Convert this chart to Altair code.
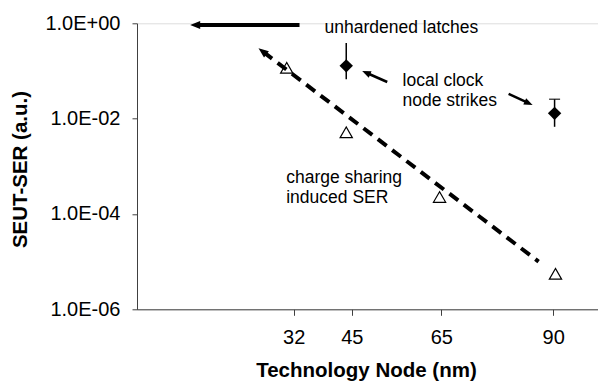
import altair as alt
import pandas as pd

# ---- data ----
tri_x = [30.45, 43.75, 64.6, 90.5]
tri_y = [0.1165, 5.17e-3, 2.27e-4, 5.56e-6]

dia_x = [43.75, 90.3]
dia_y = [0.128, 0.0129]
err_hi = [0.386, 0.0255]
err_lo = [0.0669, 0.00674]
cap_x = [90.3]
cap_y = [0.0255]

dash_x = [25.22, 86.73]
dash_y = [0.251, 1.0e-5]

arrow_tail_x = [33.31, 52.91, 80.03]
arrow_tail_y = [0.921, 0.0587, 0.0329]
arrow_neck_x = [10.25, 48.35, 84.38]
arrow_neck_y = [0.921, 0.0907, 0.0214]
arrow_width = [4, 2.5, 2.5]

head_x = [8.88, 47.32, 85.39, 24.15]
head_y = [0.921, 0.0999, 0.0193, 0.299]
head_angle = [270, 293.7, 114.6, 307.4]
head_size = [400, 300, 300, 400]

texts = ["unhardened latches", "local clock\nnode strikes", "charge sharing\ninduced SER"]
text_x = [38.9, 56.33, 30.34]
text_y = [0.635, 0.0484, 4.53e-4]

x_ticks = [32, 45, 65, 90]
y_ticks = [1e-6, 1e-4, 1e-2, 1]
y_labels = ["1.0E-06", "1.0E-04", "1.0E-02", "1.0E+00"]

FONT = "Liberation Sans"

label_expr = " : ".join(
    f"datum.value === {repr(v)} ? '{l}'" for v, l in zip(y_ticks, y_labels)
) + " : ''"

x_scale = alt.Scale(domain=[-3, 100], nice=False, zero=False)
y_scale = alt.Scale(type="log", domain=[1e-6, 1], nice=False)

x_axis = alt.Axis(
    values=x_ticks, title="Technology Node (nm)", grid=False,
    labelFontSize=20, labelFont=FONT, labelColor="black", labelPadding=12,
    tickSize=6, tickColor="#404040", domainColor="#404040",
    titleFontSize=20.5, titleFont=FONT, titleFontWeight="bold", titleColor="black",
    titleBaseline="alphabetic", titleY=67.2, titleX=229,
)
y_axis = alt.Axis(
    values=y_ticks, labelExpr=label_expr, title="SEUT-SER (a.u.)", grid=False,
    labelFontSize=20, labelFont=FONT, labelColor="black", labelPadding=12,
    tickSize=5, tickColor="#404040", domainColor="#404040",
    titleFontSize=20.5, titleFont=FONT, titleFontWeight="bold", titleColor="black",
    titleBaseline="alphabetic", titleX=-110.3, titleY=145.7, titleAngle=270,
)


def X(field):
    return alt.X(field, type="quantitative", scale=x_scale, axis=x_axis)


def Y(field):
    return alt.Y(field, type="quantitative", scale=y_scale, axis=y_axis)


tri_df = pd.DataFrame({"x": tri_x, "y": tri_y})
dia_df = pd.DataFrame({"x": dia_x, "y": dia_y, "lo": err_lo, "hi": err_hi})
cap_df = pd.DataFrame({"x": cap_x, "y": cap_y})
dash_df = pd.DataFrame({"x": dash_x, "y": dash_y, "i": [0, 1]})
arrow_df = pd.DataFrame({"x": arrow_tail_x, "y": arrow_tail_y,
                         "x2": arrow_neck_x, "y2": arrow_neck_y, "w": arrow_width})
head_df = pd.DataFrame({"x": head_x, "y": head_y, "a": head_angle, "s": head_size})
text_df = pd.DataFrame({"x": text_x, "y": text_y, "t": texts})

triangles = alt.Chart(tri_df).mark_point(
    shape="triangle-up", filled=True, fill="white", stroke="black",
    strokeWidth=1.2, size=150, opacity=1
).encode(x=X("x"), y=Y("y"))

dashed = alt.Chart(dash_df).mark_line(
    color="black", strokeWidth=4, strokeDash=[11, 7]
).encode(x=X("x"), y=Y("y"), order="i:Q")

errbars = alt.Chart(dia_df).mark_rule(color="black", strokeWidth=1.5).encode(
    x=X("x"), y=Y("lo"), y2="hi"
)

caps = alt.Chart(cap_df).mark_tick(
    color="black", orient="horizontal", size=11, thickness=1.5
).encode(x=X("x"), y=Y("y"))

diamonds = alt.Chart(dia_df).mark_point(
    shape="diamond", filled=True, color="black", size=180, opacity=1
).encode(x=X("x"), y=Y("y"))

arrows = alt.Chart(arrow_df).mark_rule(color="black").encode(
    x=X("x"), y=Y("y"), x2="x2", y2="y2",
    strokeWidth=alt.StrokeWidth("w:Q", scale=None),
)

heads = alt.Chart(head_df).mark_point(
    shape="M0,0L-0.4,1L0.4,1Z", filled=True, color="black", opacity=1
).encode(
    x=X("x"), y=Y("y"),
    angle=alt.Angle("a:Q", scale=None),
    size=alt.Size("s:Q", scale=None),
)

labels = alt.Chart(text_df).mark_text(
    align="left", baseline="alphabetic", fontSize=17.5, font=FONT,
    color="black", lineBreak="\n", lineHeight=20.5
).encode(x=X("x"), y=Y("y"), text="t:N")

chart = alt.layer(
    triangles, dashed, errbars, caps, diamonds, arrows, heads, labels
).properties(
    width=461, height=286,
    autosize=alt.AutoSizeParams(type="none"),
    padding={"left": 137, "top": 23.3, "right": 0, "bottom": 71.7},
).configure_view(stroke=None).configure(font=FONT, background="white")

chart.save("out.html", embed_options={"renderer": "svg", "actions": False})
